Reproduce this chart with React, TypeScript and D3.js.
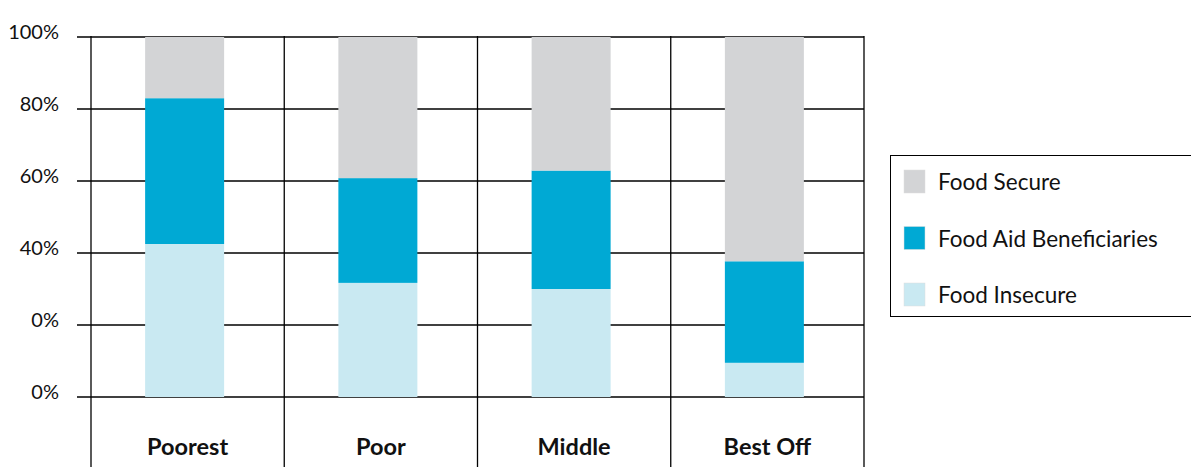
import { FC } from 'react'
import * as d3 from 'd3'

const categories = ['Poorest', 'Poor', 'Middle', 'Best Off']
const seriesNames = ['Food Insecure', 'Food Aid Beneficiaries', 'Food Secure']
const foodInsecure = [42.5, 31.7, 30.0, 9.5]
const foodAid = [40.5, 29.1, 32.9, 28.2]
const foodSecure = [17.0, 39.2, 37.1, 62.3]
const tickValues = [0, 20, 40, 60, 80, 100]
const tickLabels = ['0%', '0%', '40%', '60%', '80%', '100%']

const colors = ['#c9e9f2', '#00a9d4', '#d3d4d6']
const legendOrder = [2, 1, 0]

const width = 1191
const height = 467
const plot = { left: 91, right: 864, top: 37, bottom: 397 }
const font = 'Lato, "Open Sans", sans-serif'

const App: FC = () => {
  const x = d3.scaleBand<string>().domain(categories).range([plot.left, plot.right]).padding(0)
  const y = d3.scaleLinear().domain([0, 100]).range([plot.bottom, plot.top])

  const rows = categories.map((c, i) => ({
    cat: c,
    'Food Insecure': foodInsecure[i],
    'Food Aid Beneficiaries': foodAid[i],
    'Food Secure': foodSecure[i]
  }))
  const stacked = d3.stack<any>().keys(seriesNames)(rows)
  const barW = 79

  return (
    <svg width={width} height={height} style={{ position: 'absolute', left: 0, top: 0 }}>
      <rect width={width} height={height} fill="#fff" />
      {/* horizontal grid */}
      {tickValues.map((t, i) => (
        <g key={i}>
          <line x1={77} x2={plot.right} y1={y(t)} y2={y(t)} stroke="#000" strokeWidth={1.3} />
          <text x={59} y={y(t) + 2} textAnchor="end" fontSize={20} fontFamily={font} fill="#111">
            {tickLabels[i]}
          </text>
        </g>
      ))}
      {/* vertical lines */}
      {[...categories.map(c => x(c)!), plot.right].map((vx, i) => (
        <line key={i} x1={vx} x2={vx} y1={plot.top - 1} y2={height} stroke="#000" strokeWidth={1.3} />
      ))}
      {/* bars */}
      {stacked.map((s, si) => (
        <g key={s.key} fill={colors[si]}>
          {s.map((d, i) => (
            <rect
              key={i}
              x={x(categories[i])! + x.bandwidth() / 2 - barW / 2 - 3}
              y={y(d[1])}
              width={barW}
              height={y(d[0]) - y(d[1])}
            />
          ))}
        </g>
      ))}
      {/* category labels */}
      {categories.map(c => (
        <text
          key={c}
          x={x(c)! + x.bandwidth() / 2}
          y={455}
          textAnchor="middle"
          fontSize={23.5}
          fontWeight="bold"
          fontFamily={font}
          fill="#111"
        >
          {c}
        </text>
      ))}
      {/* legend */}
      <rect x={890.5} y={155.5} width={310} height={161} fill="#fff" stroke="#000" strokeWidth={1} />
      {legendOrder.map((si, i) => (
        <g key={si} transform={`translate(904,${170 + i * 56.5})`}>
          <rect width={21} height={23} fill={colors[si]} stroke="#ddd" strokeWidth={0.5} />
          <text x={34} y={20} fontSize={22.5} fontFamily={font} fill="#111">
            {seriesNames[si]}
          </text>
        </g>
      ))}
    </svg>
  )
}

export default App
